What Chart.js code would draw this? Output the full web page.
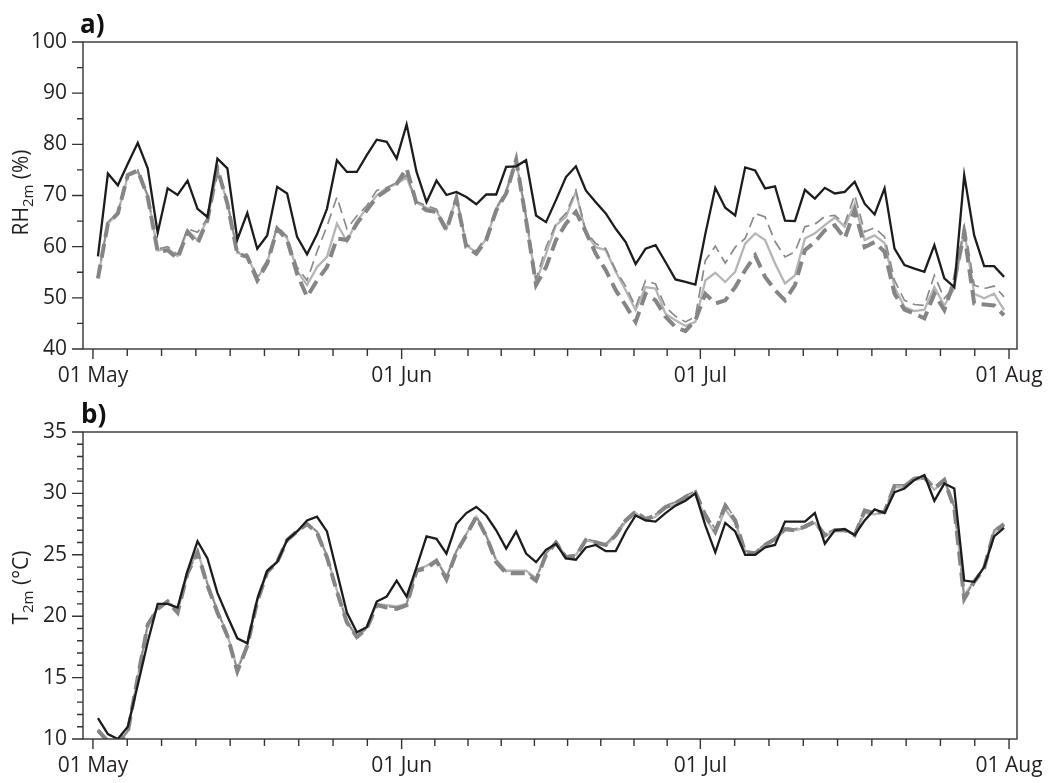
<!DOCTYPE html>
<html>
<head>
<meta charset="utf-8">
<script src="https://cdn.jsdelivr.net/npm/chart.js@4"></script>
<style>
  html, body { margin: 0; padding: 0; background: #fff; }
  body { width: 1048px; height: 783px; position: relative; overflow: hidden; }
  .panel { position: absolute; left: 0; width: 1048px; height: 392px; }
  #pa { top: 0; }
  #pb { top: 391px; }
</style>
</head>
<body>
<div class="panel" id="pa"><canvas id="ca"></canvas></div>
<div class="panel" id="pb"><canvas id="cb"></canvas></div>
<script>
// Time axis: days counted from 01 May; daily means are plotted at midday.
const monthStartDays = [0, 31, 61, 92];
const monthLabels = ['01 May', '01 Jun', '01 Jul', '01 Aug'];

// Tick labels of the two value axes
const rhTickValues = [40, 50, 60, 70, 80, 90, 100];
const tTickValues = [10, 15, 20, 25, 30, 35];

// a) 2 m relative humidity (%), 01 May - 31 Jul
const rhObs = [58.1, 74.3, 72.0, 76.2, 80.3, 75.3, 62.7, 71.4, 70.1, 72.9,
  67.4, 65.8, 77.2, 75.3, 61.4, 66.6, 59.6, 62.2, 71.7, 70.4,
  61.9, 58.5, 62.4, 67.4, 76.9, 74.6, 74.6, 77.9, 80.9, 80.5,
  77.2, 83.9, 74.6, 68.7, 72.9, 70.1, 70.7, 69.7, 68.3, 70.2,
  70.2, 75.6, 75.7, 76.9, 66.1, 64.8, 69.1, 73.6, 75.7, 71.0,
  68.7, 66.5, 63.5, 60.9, 56.6, 59.6, 60.3, 57.0, 53.6, 53.1,
  52.6, 62.5, 71.5, 67.6, 66.1, 75.5, 74.9, 71.4, 71.8, 65.1,
  65.0, 71.1, 69.4, 71.5, 70.4, 70.7, 72.7, 68.4, 66.3, 71.4,
  59.6, 56.4, 55.7, 55.1, 60.3, 53.8, 52.1, 74.0, 62.2, 56.2,
  56.2, 54.1];
const rhRunSolid = [53.8, 64.5, 66.5, 73.8, 74.6, 69.9, 59.2, 59.6, 58.2, 63.2,
  61.3, 65.4, 75.0, 68.6, 58.8, 58.2, 53.8, 56.9, 63.8, 61.6,
  55.3, 52.5, 56.0, 58.0, 64.5, 61.0, 65.0, 67.5, 70.0, 71.5,
  72.3, 73.5, 68.6, 67.6, 67.0, 63.5, 69.6, 60.2, 58.9, 61.5,
  67.3, 70.6, 76.8, 65.5, 53.0, 58.6, 64.2, 65.8, 70.7, 62.6,
  59.9, 59.3, 55.1, 51.5, 47.6, 52.1, 51.8, 46.9, 45.6, 44.5,
  45.3, 53.4, 54.9, 53.1, 55.1, 60.6, 62.6, 61.3, 56.7, 52.8,
  54.4, 61.6, 62.6, 64.2, 65.7, 63.9, 68.4, 61.3, 62.2, 60.7,
  52.1, 48.2, 47.4, 47.7, 52.1, 48.5, 51.8, 63.2, 50.8, 49.9,
  50.8, 47.6];
const rhRunThin = [54.0, 64.8, 66.8, 74.0, 75.0, 70.0, 59.5, 60.0, 58.5, 63.5,
  62.8, 65.5, 75.3, 68.8, 59.0, 58.5, 54.2, 57.3, 64.0, 62.0,
  56.0, 53.4, 59.0, 64.0, 69.7, 63.5, 66.0, 68.0, 71.0, 71.5,
  72.5, 74.0, 68.8, 68.0, 67.3, 63.8, 69.8, 60.5, 59.2, 62.0,
  67.6, 71.0, 77.2, 66.0, 53.6, 59.9, 64.5, 66.5, 71.0, 63.0,
  60.6, 59.6, 55.4, 52.3, 48.2, 53.4, 52.7, 48.2, 46.4, 45.3,
  46.3, 57.3, 60.1, 56.8, 59.9, 61.6, 66.5, 65.8, 61.0, 58.0,
  59.0, 63.9, 64.4, 65.9, 66.1, 64.5, 70.1, 62.9, 63.7, 61.9,
  53.4, 49.5, 48.7, 48.5, 54.4, 49.9, 52.1, 64.5, 52.5, 51.8,
  52.3, 50.2];
const rhRunThick = [53.8, 64.5, 66.5, 74.0, 74.9, 69.7, 59.0, 59.3, 57.7, 62.9,
  60.6, 65.2, 75.3, 68.4, 58.6, 58.0, 53.4, 56.7, 63.5, 61.3,
  54.7, 50.2, 53.4, 56.0, 61.6, 61.3, 64.5, 67.1, 69.7, 71.0,
  72.3, 75.3, 68.4, 67.1, 66.8, 63.2, 69.4, 59.9, 58.6, 61.3,
  67.1, 70.4, 77.0, 65.2, 52.5, 56.0, 61.3, 64.5, 66.8, 62.9,
  58.6, 55.4, 51.5, 48.5, 45.3, 50.8, 49.5, 46.3, 44.3, 43.5,
  45.6, 50.8, 48.9, 49.5, 52.1, 55.4, 58.3, 54.1, 51.5, 49.5,
  52.5, 59.3, 60.9, 63.2, 64.2, 61.6, 67.1, 59.9, 60.9, 59.0,
  50.8, 47.7, 46.9, 46.0, 50.8, 47.6, 53.4, 62.6, 48.9, 48.7,
  48.5, 46.6];

// b) 2 m air temperature (°C), 01 May - 31 Jul
const tObs = [11.7, 10.4, 10.0, 11.0, 14.4, 17.9, 21.0, 21.0, 20.7, 23.7,
  26.1, 24.7, 21.9, 20.0, 18.2, 17.8, 21.4, 23.7, 24.4, 26.2,
  26.9, 27.8, 28.1, 26.9, 23.6, 20.3, 18.7, 19.1, 21.2, 21.6,
  22.9, 21.6, 24.0, 26.5, 26.3, 25.1, 27.5, 28.4, 28.9, 28.2,
  27.0, 25.5, 26.9, 25.1, 24.4, 25.4, 25.9, 24.7, 24.6, 25.6,
  25.8, 25.3, 25.3, 26.9, 28.2, 27.8, 27.7, 28.4, 29.0, 29.4,
  30.0, 27.4, 25.2, 27.6, 26.9, 25.0, 25.0, 25.6, 25.8, 27.7,
  27.7, 27.7, 28.4, 25.9, 27.0, 27.1, 26.6, 27.8, 28.7, 28.4,
  30.1, 30.4, 31.1, 31.5, 29.4, 30.8, 30.4, 22.9, 22.8, 24.0,
  26.5, 27.2];
const tRunSolid = [10.8, 9.9, 9.7, 10.7, 15.0, 19.2, 20.7, 21.2, 20.4, 23.6,
  25.3, 22.7, 20.5, 18.5, 15.7, 17.7, 21.2, 23.6, 24.5, 26.2,
  26.9, 27.5, 26.9, 24.9, 22.1, 19.6, 18.4, 19.1, 21.0, 20.9,
  20.8, 21.0, 23.8, 24.1, 24.6, 23.2, 25.3, 26.7, 28.1, 26.6,
  24.6, 23.7, 23.7, 23.7, 23.1, 25.1, 26.0, 24.9, 25.0, 26.2,
  26.0, 25.8, 26.5, 27.7, 28.4, 27.8, 28.1, 28.8, 29.1, 29.6,
  30.0, 28.0, 26.7, 28.7, 27.6, 25.3, 25.2, 25.8, 26.2, 27.0,
  27.0, 27.2, 27.6, 26.5, 27.0, 27.0, 26.6, 28.4, 28.3, 28.5,
  30.5, 30.5, 31.1, 31.2, 30.3, 31.0, 28.9, 21.7, 22.9, 24.0,
  26.8, 27.4];
const tRunThin = [10.7, 9.8, 9.6, 10.6, 15.1, 19.4, 20.7, 21.3, 20.4, 23.5,
  25.2, 22.6, 20.4, 18.5, 15.6, 17.6, 21.3, 23.7, 24.4, 26.3,
  27.0, 27.6, 26.9, 24.9, 22.1, 19.5, 18.3, 19.0, 21.0, 20.8,
  20.7, 21.0, 23.8, 24.0, 24.6, 23.1, 25.3, 26.7, 28.2, 26.5,
  24.5, 23.6, 23.6, 23.6, 23.0, 25.1, 26.1, 24.9, 25.0, 26.3,
  26.1, 25.9, 26.7, 27.9, 28.6, 28.0, 28.3, 29.0, 29.3, 29.8,
  30.2, 28.4, 27.1, 29.2, 27.9, 25.3, 25.2, 25.9, 26.4, 27.2,
  27.1, 27.4, 27.8, 26.7, 27.1, 27.1, 26.7, 28.7, 28.4, 28.6,
  30.7, 30.7, 31.3, 31.4, 30.5, 31.2, 28.9, 21.4, 22.9, 24.0,
  27.0, 27.6];
const tRunThick = [10.7, 9.8, 9.6, 10.6, 15.0, 19.3, 20.6, 21.2, 20.3, 23.5,
  25.2, 22.5, 20.3, 18.4, 15.5, 17.6, 21.2, 23.6, 24.4, 26.2,
  26.9, 27.5, 26.8, 24.8, 22.0, 19.5, 18.3, 19.0, 20.9, 20.7,
  20.6, 20.9, 23.7, 23.9, 24.5, 23.0, 25.2, 26.6, 28.1, 26.5,
  24.4, 23.5, 23.5, 23.5, 22.9, 25.0, 26.0, 24.8, 24.9, 26.2,
  26.0, 25.8, 26.6, 27.8, 28.5, 27.9, 28.2, 28.9, 29.2, 29.7,
  30.1, 28.2, 26.9, 29.0, 27.8, 25.2, 25.1, 25.8, 26.3, 27.1,
  27.0, 27.3, 27.7, 26.6, 27.0, 27.0, 26.6, 28.6, 28.4, 28.5,
  30.6, 30.6, 31.2, 31.3, 30.4, 31.1, 28.8, 21.4, 22.8, 23.9,
  26.9, 27.5];

const FONT = '"Open Sans", "Noto Sans", "DejaVu Sans", sans-serif';
const INK = '#231f20';
const FRAME = '#333333';

// Each month is split into nine equal intervals on the time axis.
function buildTimeTicks() {
  const ticks = [];
  for (let m = 0; m < monthStartDays.length; m++) {
    const s = monthStartDays[m];
    ticks.push({ value: s, major: true });
    if (m < monthStartDays.length - 1) {
      const e = monthStartDays[m + 1];
      for (let k = 1; k < 9; k++) ticks.push({ value: s + k * (e - s) / 9, major: false });
    }
  }
  return ticks;
}
const timeTicks = buildTimeTicks();

function toPoints(values) {
  return values.map((v, i) => ({ x: i + 0.5, y: v }));
}

function makeDatasets(obs, solid, thin, thick) {
  // First dataset is drawn on top.
  return [
    { label: 'obs', data: toPoints(obs), borderColor: '#1c1c1c', borderWidth: 2.3 },
    { label: 'thick', data: toPoints(thick), borderColor: '#858585', borderWidth: 4, borderDash: [14, 7] },
    { label: 'thin', data: toPoints(thin), borderColor: '#8a8a8a', borderWidth: 1.7, borderDash: [11, 6] },
    { label: 'solid', data: toPoints(solid), borderColor: '#b5b5b5', borderWidth: 2.3 }
  ].map(d => Object.assign(d, { pointRadius: 0, tension: 0, fill: false, clip: 0, borderJoinStyle: 'miter' }));
}

// Frame, outward tick marks, axis title with subscript and panel letter.
const decor = {
  id: 'decor',
  afterDraw(chart, args, o) {
    const ctx = chart.ctx, a = chart.chartArea;
    const xs = chart.scales.x, ys = chart.scales.y;
    ctx.save();
    ctx.strokeStyle = FRAME;
    ctx.lineWidth = 1.4;
    ctx.strokeRect(a.left, a.top, a.right - a.left, a.bottom - a.top);
    ctx.beginPath();
    for (let v = o.yMin; v <= o.yMax + 1e-9; v += o.yMinorStep) {
      const y = ys.getPixelForValue(v);
      const major = o.yTicks.includes(v);
      ctx.moveTo(a.left, y);
      ctx.lineTo(a.left - (major ? 11 : 6), y);
    }
    timeTicks.forEach(t => {
      const x = xs.getPixelForValue(t.value);
      ctx.moveTo(x, a.bottom);
      ctx.lineTo(x, a.bottom + (t.major ? 10 : 7));
    });
    ctx.stroke();

    // rotated axis title: main text, lowered subscript, unit
    ctx.fillStyle = INK;
    ctx.textBaseline = 'alphabetic';
    const big = '21px ' + FONT, small = '15px ' + FONT;
    ctx.font = big; const w1 = ctx.measureText(o.title[0]).width; const w3 = ctx.measureText(o.title[2]).width;
    ctx.font = small; const w2 = ctx.measureText(o.title[1]).width;
    const total = w1 + w2 + w3;
    const cy = (a.top + a.bottom) / 2 + o.titleShift;
    ctx.translate(o.titleX, cy);
    ctx.rotate(-Math.PI / 2);
    let x0 = -total / 2;
    ctx.font = big; ctx.fillText(o.title[0], x0, 0);
    ctx.font = small; ctx.fillText(o.title[1], x0 + w1, 5);
    ctx.font = big; ctx.fillText(o.title[2], x0 + w1 + w2, 0);
    ctx.setTransform(1, 0, 0, 1, 0, 0);

    ctx.font = 'bold 26px ' + FONT;
    ctx.fillStyle = '#111';
    ctx.fillText(o.letter, o.letterX, o.letterY);
    ctx.restore();
  }
};

function makeChart(canvasId, datasets, yMin, yMax, yStep, yTicks, yMinorStep, padTop, xHeight, deco) {
  return new Chart(document.getElementById(canvasId), {
    type: 'line',
    data: { datasets },
    plugins: [decor],
    options: {
      responsive: true,
      maintainAspectRatio: false,
      animation: false,
      devicePixelRatio: 1,
      events: [],
      layout: { padding: { top: padTop, right: 31, bottom: 0, left: 0 } },
      plugins: {
        legend: { display: false },
        tooltip: { enabled: false },
        decor: Object.assign({ yMin, yMax, yMinorStep, yTicks }, deco)
      },
      scales: {
        x: {
          type: 'linear',
          min: -1,
          max: 92.8,
          grid: { display: false, drawTicks: false },
          border: { display: false },
          afterBuildTicks: (s) => { s.ticks = timeTicks.map(t => ({ value: t.value })); },
          afterFit: (s) => { s.height = xHeight; s.paddingLeft = 0; s.paddingRight = 0; },
          ticks: {
            autoSkip: false,
            maxRotation: 0,
            minRotation: 0,
            padding: 14,
            color: INK,
            font: { family: FONT, size: 21 },
            callback: (v) => {
              const k = monthStartDays.indexOf(v);
              return k >= 0 ? monthLabels[k] : '';
            }
          }
        },
        y: {
          min: yMin,
          max: yMax,
          grid: { display: false, drawTicks: false },
          border: { display: false },
          afterBuildTicks: (s) => { s.ticks = yTicks.map(v => ({ value: v })); },
          afterFit: (s) => { s.width = 83; s.paddingTop = 0; s.paddingBottom = 0; },
          ticks: {
            padding: 16,
            color: INK,
            font: { family: FONT, size: 21 },
            callback: (v) => String(v)
          }
        }
      }
    }
  });
}

makeChart('ca', makeDatasets(rhObs, rhRunSolid, rhRunThin, rhRunThick),
  40, 100, 10, rhTickValues, 5, 42, 43,
  { title: ['RH', '2m', ' (%)'], titleX: 28, titleShift: -3, letter: 'a)', letterX: 80, letterY: 33 });

makeChart('cb', makeDatasets(tObs, tRunSolid, tRunThin, tRunThick),
  10, 35, 5, tTickValues, 1, 41, 44,
  { title: ['T', '2m', ' (°C)'], titleX: 28, titleShift: 2, letter: 'b)', letterX: 81, letterY: 32 });
</script>
</body>
</html>
